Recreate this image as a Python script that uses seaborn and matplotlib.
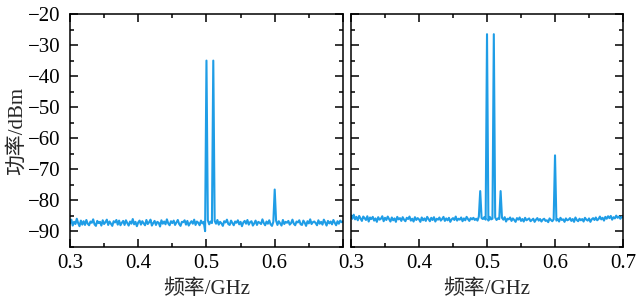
## Spectrum of two-tone test: two panels, shared power axis
import numpy as np
import pandas as pd
import matplotlib
matplotlib.use("Agg")
import matplotlib.pyplot as plt
from matplotlib.ticker import MultipleLocator
import seaborn as sns

## Frequency grid (GHz)
freq_start, freq_stop, freq_step = 0.3, 0.7, 0.002

## Noise floor readings (dBm), left panel
floor_left = [
    -87.4, -86.2, -88.1, -86.9, -87.6, -85.9, -87.3, -88.3, -86.5, -87.8,
    -86.7, -87.9, -86.3, -87.5, -88.0, -86.8, -87.2, -86.1, -87.7, -88.2,
    -86.6, -87.3, -86.9, -88.1, -86.4, -87.6, -87.0, -86.2, -87.9, -86.8,
    -87.5, -88.2, -86.7, -87.1, -86.3, -87.8, -86.5, -88.0, -87.2, -86.6,
    -87.9, -86.4, -87.3, -88.1, -86.8, -87.5, -86.0, -87.7, -86.9, -88.3,
    -87.1, -86.5, -87.8, -86.7, -87.4, -88.0, -86.3, -87.6, -87.0, -86.2,
    -88.1, -87.3, -86.6, -87.9, -86.9, -87.2, -88.4, -86.4, -87.5, -86.8,
    -87.7, -86.1, -87.4, -88.0, -86.7, -87.3, -86.5, -87.9, -87.1, -86.3,
    -87.6, -88.2, -86.9, -87.0, -86.4, -87.8, -86.6, -88.1, -87.3, -86.7,
    -87.5, -86.2, -87.9, -86.8, -87.2, -88.0, -86.5, -87.4, -86.9, -89.9,
    -87.0, -86.4, -87.7, -86.8, -87.3, -88.1, -86.6, -87.5, -86.3, -87.8,
    -86.9, -87.4, -88.2, -86.7, -87.1, -86.2, -87.6, -87.9, -86.5, -87.3,
    -88.0, -86.8, -87.2, -86.4, -87.7, -86.9, -88.3, -87.1, -86.6, -87.5,
    -86.3, -87.8, -87.0, -86.7, -88.1, -87.4, -86.5, -87.9, -86.9, -87.2,
    -87.6, -86.1, -87.3, -88.0, -86.8, -87.5, -86.4, -87.7, -88.2, -86.9,
    -87.1, -86.5, -87.9, -86.7, -87.4, -88.1, -86.3, -87.6, -86.9, -87.2,
    -86.6, -87.8, -87.3, -86.2, -87.5, -88.0, -86.8, -87.1, -86.4, -87.7,
    -87.9, -86.5, -87.2, -88.2, -86.7, -87.4, -86.1, -87.6, -87.0, -86.8,
    -87.3, -88.0, -86.4, -87.5, -86.9, -87.8, -86.2, -87.1, -88.1, -86.6,
    -87.4, -86.8, -87.7, -86.3, -87.2, -88.0, -86.7, -87.5, -86.5, -87.0,
    -86.8,
]

## Noise floor readings (dBm), right panel
floor_right = [
    -84.8, -85.9, -84.6, -86.1, -85.3, -86.4, -85.0, -85.8, -86.6, -85.2,
    -85.7, -86.3, -85.1, -86.8, -85.5, -86.0, -85.3, -86.5, -85.8, -86.9,
    -85.4, -86.2, -85.9, -85.1, -86.7, -85.6, -86.3, -85.2, -86.0, -86.8,
    -85.5, -86.4, -85.8, -86.9, -85.3, -86.1, -85.7, -86.6, -85.4, -86.2,
    -86.7, -85.6, -86.0, -85.2, -86.5, -85.9, -86.8, -85.4, -86.3, -85.7,
    -86.1, -86.9, -85.5, -86.4, -85.8, -86.6, -85.3, -86.0, -86.7, -85.6,
    -86.3, -85.4, -86.8, -85.9, -86.2, -85.5, -86.5, -86.0, -85.3, -86.6,
    -85.8, -86.4, -85.6, -86.9, -86.1, -85.7, -86.3, -85.2, -86.5, -85.9,
    -86.2, -85.5, -86.7, -85.8, -86.4, -85.3, -86.0, -86.6, -85.7, -86.1,
    -85.6, -86.3, -85.9, -86.5, -85.2, -86.8, -85.7, -86.0, -85.4, -86.2,
    -85.8, -86.5, -85.3, -86.1, -85.9, -86.7, -85.5, -86.3, -85.8, -86.0,
    -86.4, -85.6, -86.2, -85.4, -86.8, -85.9, -86.1, -85.5, -86.6, -85.8,
    -86.3, -86.9, -85.7, -86.2, -85.5, -86.6, -86.0, -86.8, -85.6, -86.4,
    -86.1, -85.8, -86.7, -86.3, -85.9, -86.9, -86.2, -85.7, -86.5, -86.0,
    -86.8, -86.2, -85.9, -86.6, -86.4, -87.0, -85.8, -86.3, -86.7, -86.1,
    -85.9, -86.5, -86.0, -86.8, -85.6, -86.3, -86.1, -86.9, -85.8, -86.4,
    -86.2, -85.7, -86.6, -86.0, -86.9, -85.5, -86.3, -86.7, -85.9, -86.4,
    -86.0, -86.8, -85.6, -86.2, -86.5, -85.8, -86.9, -86.1, -85.7, -86.3,
    -85.5, -86.4, -86.0, -85.2, -86.1, -85.6, -86.5, -85.3, -85.9, -85.1,
    -85.7, -85.0, -86.2, -85.4, -85.8, -84.9, -85.6, -85.2, -85.9, -85.3,
    -85.5,
]

## Spectral peaks (GHz, dBm)
peaks_left_freq = [0.50, 0.51, 0.60]
peaks_left_level = [-35.0, -35.0, -76.5]
peaks_right_freq = [0.49, 0.50, 0.51, 0.52, 0.60]
peaks_right_level = [-77.0, -26.5, -26.5, -77.0, -65.5]

x_ticks = [0.3, 0.4, 0.5, 0.6, 0.7]
y_ticks = [-90, -80, -70, -60, -50, -40, -30, -20]
line_color = "#1f9de6"


def build_spectrum(floor, pk_freq, pk_level):
    freq = np.round(np.arange(len(floor)) * freq_step + freq_start, 4)
    power = np.array(floor, dtype=float)
    for f, p in zip(pk_freq, pk_level):
        power[np.argmin(np.abs(freq - f))] = p
    return pd.DataFrame({"freq": freq, "power": power})


df_left = build_spectrum(floor_left, peaks_left_freq, peaks_left_level)
df_right = build_spectrum(floor_right, peaks_right_freq, peaks_right_level)

sns.set_style("ticks")
plt.rcParams["font.family"] = ["Liberation Serif", "Noto Sans CJK SC"]
plt.rcParams["axes.unicode_minus"] = True
plt.rcParams["axes.linewidth"] = 1.1

fs = 15

fig = plt.figure(figsize=(6.39, 3.03), dpi=100)
ax1 = fig.add_axes([0.1095, 0.1848, 0.4272, 0.769])
ax2 = fig.add_axes([0.5493, 0.1848, 0.4257, 0.769])

for ax, d in ((ax1, df_left), (ax2, df_right)):
    sns.lineplot(data=d, x="freq", y="power", ax=ax, color=line_color,
                 linewidth=1.5, estimator=None, sort=False)
    ax.set_xlim(freq_start, freq_stop)
    ax.set_ylim(-95, -20)
    ax.set_xticks(x_ticks)
    ax.set_yticks(y_ticks)
    ax.xaxis.set_minor_locator(MultipleLocator(0.05))
    ax.yaxis.set_minor_locator(MultipleLocator(5))
    ax.tick_params(which="both", direction="in", top=True, right=True,
                   labelsize=fs, colors="black", width=1.1)
    ax.tick_params(which="major", length=5.5)
    ax.tick_params(which="minor", length=3)
    ax.tick_params(axis="x", which="major", pad=5)
    ax.tick_params(axis="y", which="major", pad=6.5)
    for s in ax.spines.values():
        s.set_visible(True)
        s.set_color("black")
    ax.set_xlabel("频率/GHz", fontsize=fs, labelpad=5)

ax1.set_xticklabels(["0.3", "0.4", "0.5", "0.6", ""])
ax2.set_xticklabels(["0.3", "0.4", "0.5", "0.6", "0.7"])
ax1.set_yticklabels(["\u221290", "\u221280", "\u221270", "\u221260",
                     "\u221250", "\u221240", "\u221230", "\u221220"])
ax2.set_yticklabels([])
ax2.set_ylabel("")
ax1.set_ylabel("功率/dBm", fontsize=fs, labelpad=1)

fig.savefig("out.png", dpi=100)
plt.close(fig)
